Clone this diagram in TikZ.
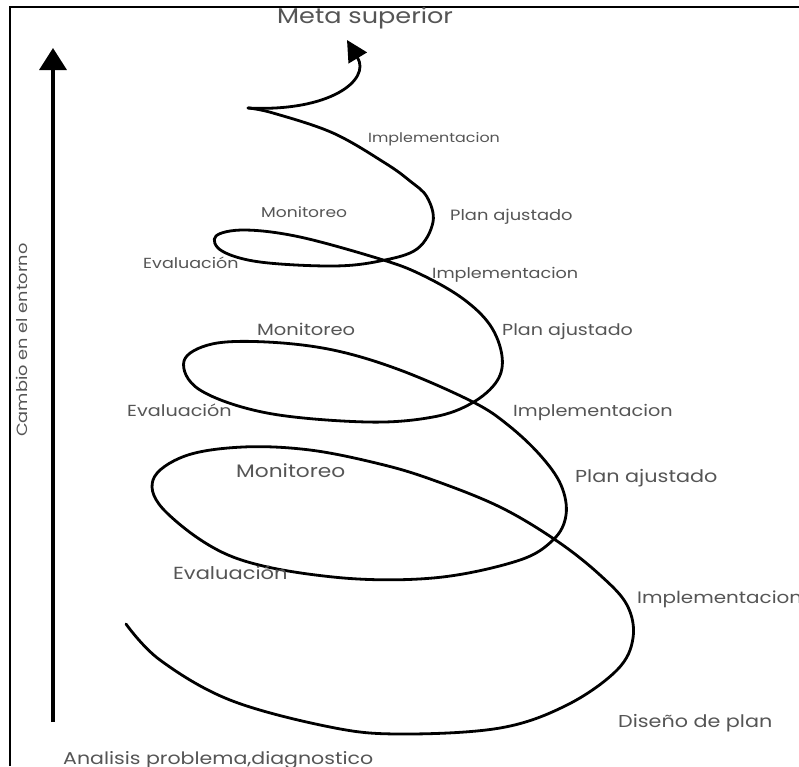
\documentclass[tikz,border=0pt]{standalone}
\usepackage{fontspec}
\setmainfont{Poppins}[FakeStretch=1.2]
\usetikzlibrary{arrows.meta}
\definecolor{labgray}{HTML}{555555}
\newcommand\fsz[1]{\fontsize{#1}{#1}\selectfont}
\begin{document}
\begin{tikzpicture}[x=1pt,y=-1pt,
  lab/.style={text=labgray, inner sep=0pt, anchor=base west},
  spiral/.style={line width=2.8pt, line cap=round, line join=round},
  frame/.style={line width=1.8pt},
  axis/.style={line width=3.5pt}]
\useasboundingbox (0,0) rectangle (799,766);
\fill[white] (0,0) rectangle (799,766);
% frame
\draw[frame] (10,766) -- (10,7) -- (799,7);
% vertical axis
\coordinate (axbot) at (53,722);
\coordinate (axtop) at (53,48);
\draw[axis,-{Triangle[length=22pt,width=27pt]}] (axbot) -- (axtop);
% spiral
\draw[spiral] plot[smooth,tension=0.6] coordinates {
 (126,624) (160,660) (230,700) (330,727) (400,734) (500,728) (567,705)
 (617,670) (633,638) (627,605) (600,575) (557,541) (500,507) (433,480)
 (380,464) (310,450) (243,447) (185,456) (153,480) (167,513) (233,557)
 (333,577) (433,578) (517,561) (553,540) (566,515) (561,485) (540,455)
 (508,425) (473,402) (400,370) (333,350) (267,342) (212,344) (184,361)
 (200,390) (267,413) (367,422) (433,417) (472,403) (497,381) (502,356)
 (490,325) (462,298) (420,274) (380,259) (300,237) (245,230) (216,236)
 (222,251) (260,262) (333,266) (380,261) (417,249) (433,222) (427,197)
 (410,181) (385,163) (333,133) (273,113) (248,108)};
\coordinate (cusp) at (248,108);
\coordinate (goal) at (347,40);
\draw[spiral,-{Triangle[length=21pt,width=21pt]}] (cusp) .. controls (330,112) and (371,80) .. (goal);
% labels
\node[lab,font=\fsz{21.3}] (meta) at (277,23) {Meta superior};
\node[lab,font=\fsz{13.25}] (imp1) at (368,142) {Implementacion};
\node[lab,font=\fsz{14.25}] (mon1) at (261,217) {Monitoreo};
\node[lab,font=\fsz{14.9}] (pla1) at (450,220) {Plan ajustado};
\node[lab,font=\fsz{14.6}] (eva1) at (143,268) {Evaluación};
\node[lab,font=\fsz{14.7}] (imp2) at (432,278) {Implementacion};
\node[lab,font=\fsz{16.25}] (mon2) at (257,335) {Monitoreo};
\node[lab,font=\fsz{15.9}] (pla2) at (502,335) {Plan ajustado};
\node[lab,font=\fsz{16}] (eva2) at (127,416) {Evaluación};
\node[lab,font=\fsz{16.05}] (imp3) at (513,416) {Implementacion};
\node[lab,font=\fsz{18.1}] (mon3) at (236,477) {Monitoreo};
\node[lab,font=\fsz{17.3}] (pla3) at (575,482) {Plan ajustado};
\node[lab,font=\fsz{17.5}] (eva3) at (173,579) {Evaluación};
\node[lab,font=\fsz{16.6}] (imp4) at (637,603) {Implementacion};
\node[lab,font=\fsz{17.25}] (dis) at (618,727) {Diseño de plan};
\node[lab,font=\fsz{17.1}] (ana) at (63,764) {Analisis problema,diagnostico};
\node[lab,font=\fsz{14.8},rotate=90] (cam) at (27,437) {Cambio en el entorno};
\end{tikzpicture}
\end{document}
